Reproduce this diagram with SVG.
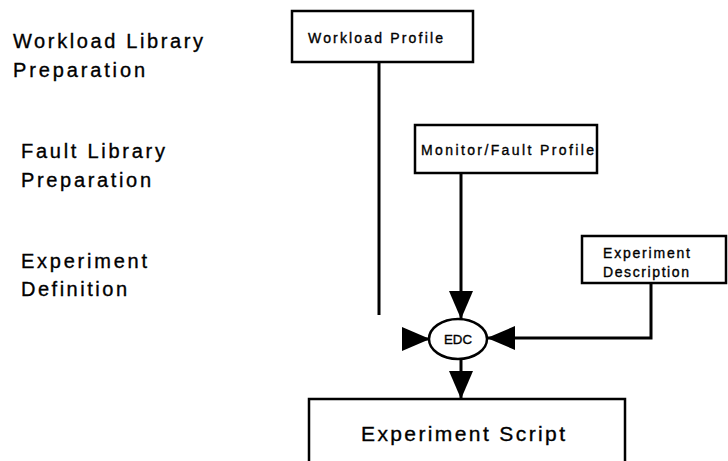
<svg xmlns="http://www.w3.org/2000/svg" width="728" height="461" viewBox="0 0 728 461">
  <style>
    .box { fill: #ffffff; stroke: #000000; stroke-width: 2.5; }
    .wire { fill: none; stroke: #000000; stroke-width: 3; }
    .label { font-family: "Liberation Sans", Arial, sans-serif; fill: #000000; stroke: #000000; stroke-width: 0.35; }
    .stage { font-size: 20px; }
    .small { font-size: 14px; }
  </style>
  <defs>
    <marker id="head" viewBox="0 0 28 24" refX="28" refY="12" markerWidth="28" markerHeight="24" markerUnits="userSpaceOnUse" orient="auto">
      <path d="M0,0 L28,12 L0,24 z" fill="#000000"/>
    </marker>
  </defs>
  <rect width="728" height="461" fill="#ffffff"/>

  <!-- stage captions on the left -->
  <g id="stage-workload">
    <text class="label stage" x="13" y="48" textLength="190" lengthAdjust="spacing">Workload Library</text>
    <text class="label stage" x="13" y="77" textLength="132" lengthAdjust="spacing">Preparation</text>
  </g>
  <g id="stage-fault">
    <text class="label stage" x="21" y="158" textLength="144" lengthAdjust="spacing">Fault Library</text>
    <text class="label stage" x="21" y="187" textLength="130" lengthAdjust="spacing">Preparation</text>
  </g>
  <g id="stage-experiment">
    <text class="label stage" x="21" y="268" textLength="126" lengthAdjust="spacing">Experiment</text>
    <text class="label stage" x="21" y="296" textLength="106" lengthAdjust="spacing">Definition</text>
  </g>

  <!-- connectors -->
  <g id="connectors">
    <path class="wire" d="M379,62 V315"/>
    <path class="wire" d="M461,173 V319" marker-end="url(#head)"/>
    <path class="wire" d="M404,339 H430" marker-end="url(#head)"/>
    <path class="wire" d="M651,283 V338 H487" marker-end="url(#head)"/>
    <path class="wire" d="M461,360 V399" marker-end="url(#head)"/>
  </g>

  <g id="workload-profile">
    <rect class="box" x="292" y="11" width="181" height="51"/>
    <text class="label small" x="308" y="43" textLength="135" lengthAdjust="spacing">Workload Profile</text>
  </g>

  <g id="monitor-fault-profile">
    <rect class="box" x="415" y="125" width="182" height="48"/>
    <text class="label small" x="421" y="155" font-size="15" textLength="173" lengthAdjust="spacing">Monitor/Fault Profile</text>
  </g>

  <g id="experiment-description">
    <rect class="box" x="582" y="236" width="144" height="47"/>
    <text class="label small" x="603" y="258" font-size="13" textLength="87" lengthAdjust="spacing">Experiment</text>
    <text class="label small" x="603" y="277" font-size="13" textLength="86" lengthAdjust="spacing">Description</text>
  </g>

  <g id="edc">
    <ellipse cx="458" cy="339" rx="29" ry="20" fill="#ffffff" stroke="#000000" stroke-width="2.5"/>
    <text class="label" x="458" y="344" font-size="13" text-anchor="middle" textLength="28" lengthAdjust="spacingAndGlyphs">EDC</text>
  </g>

  <g id="experiment-script">
    <rect class="box" x="309" y="399" width="316" height="80"/>
    <text class="label" x="361" y="441" font-size="21" textLength="204" lengthAdjust="spacing">Experiment Script</text>
  </g>
</svg>
